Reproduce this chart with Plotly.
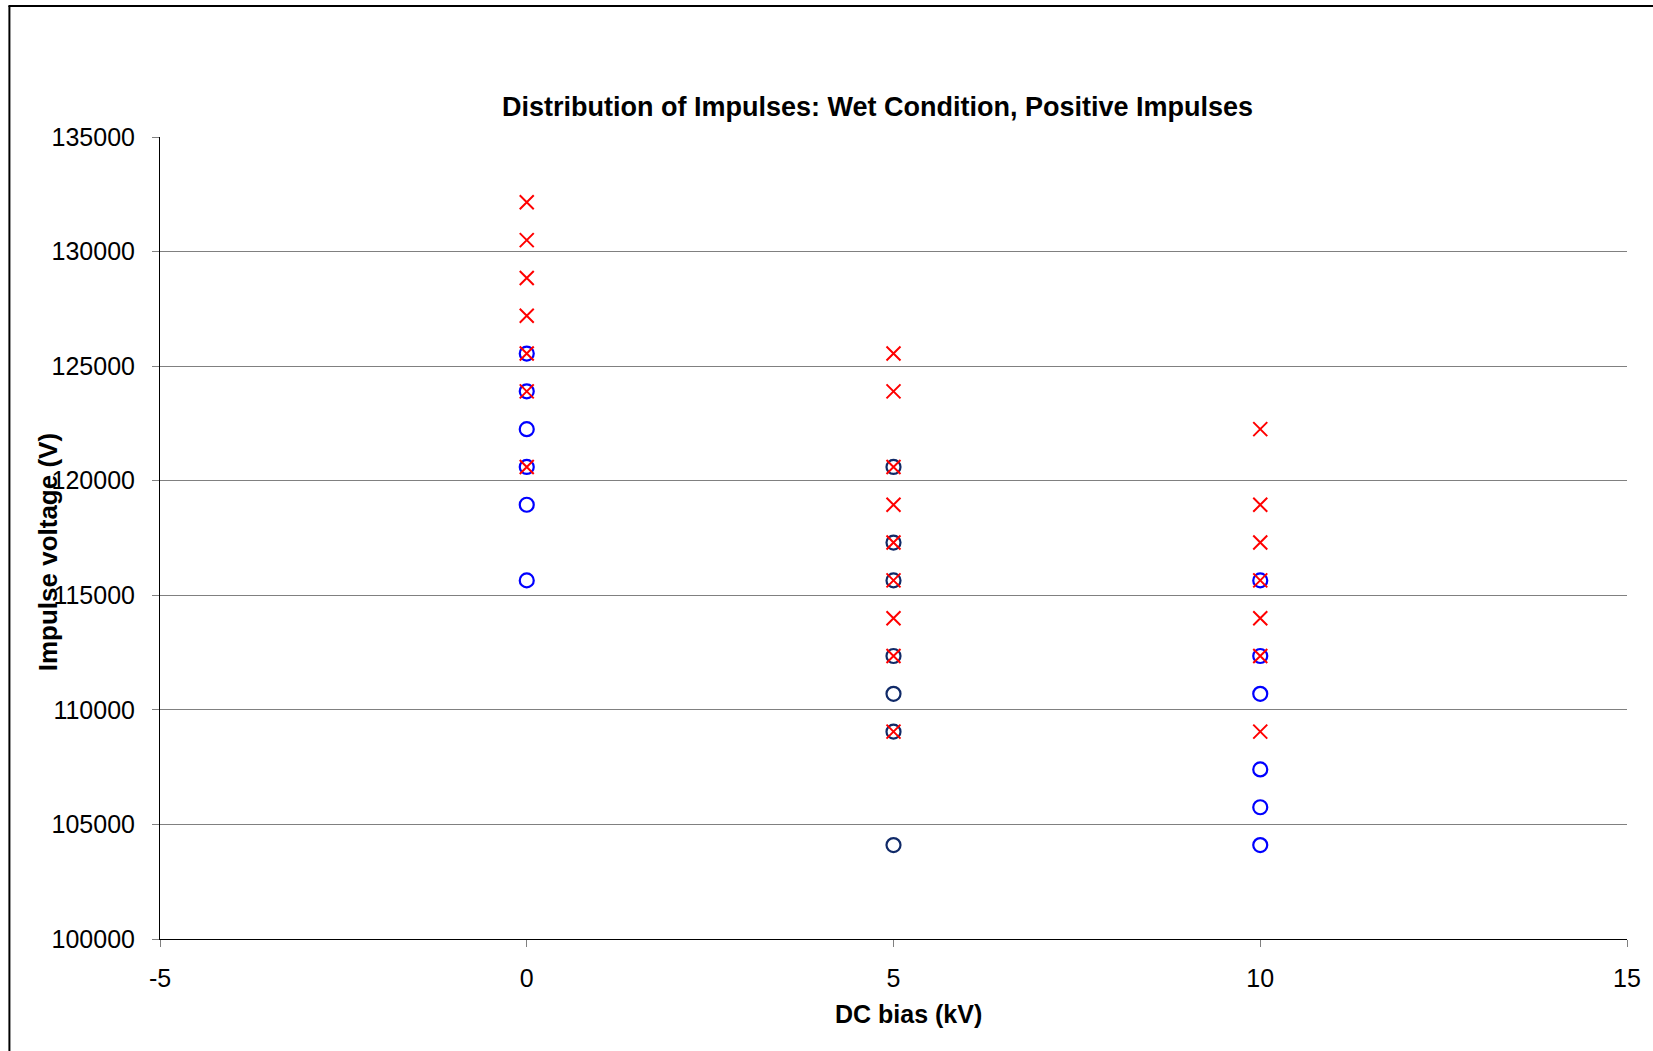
import plotly.graph_objects as go

# Impulse test results: breakdowns (x) and withstands (o) per DC bias level
bias_0 = 0
bias_5 = 5
bias_10 = 10

breakdown_0 = [132150, 130500, 128850, 127200, 125550, 123900, 120600]
withstand_0 = [125550, 123900, 122250, 120600, 118950, 115650]

breakdown_5 = [125550, 123900, 120600, 118950, 117300, 115650, 114000, 112350, 109050]
withstand_5 = [120600, 117300, 115650, 112350, 110700, 109050, 104100]

breakdown_10 = [122250, 118950, 117300, 115650, 114000, 112350, 109050]
withstand_10 = [115650, 112350, 110700, 107400, 105750, 104100]

x_ticks = [-5, 0, 5, 10, 15]
x_tick_labels = ["-5", "0", "5", "10", "15"]

title_text = "Distribution of Impulses: Wet Condition, Positive Impulses"
x_title = "DC bias (kV)"
y_title = "Impulse voltage (V)"

W, H = 1653, 1051
L, R, T, B = 160, 1631, 137, 939
FONT = "Liberation Sans, Arial, sans-serif"


def px_x(px):
    return (px - L) / (R - L)


def px_y(py):
    return (B - py) / (B - T)


fig = go.Figure()

circle_style = dict(symbol="circle-open", size=14)
cross_style = dict(symbol="x-thin", size=14, color="#FF0000", line=dict(color="#FF0000", width=2))

fig.add_trace(go.Scatter(x=[bias_0] * len(withstand_0), y=withstand_0, mode="markers",
                         marker=dict(**circle_style, color="#0000FF",
                                     line=dict(color="#0000FF", width=2.2))))
fig.add_trace(go.Scatter(x=[bias_5] * len(withstand_5), y=withstand_5, mode="markers",
                         marker=dict(**circle_style, color="#102A68",
                                     line=dict(color="#102A68", width=2.2))))
fig.add_trace(go.Scatter(x=[bias_10] * len(withstand_10), y=withstand_10, mode="markers",
                         marker=dict(**circle_style, color="#0000FF",
                                     line=dict(color="#0000FF", width=2.2))))

for xv, ys in ((bias_0, breakdown_0), (bias_5, breakdown_5), (bias_10, breakdown_10)):
    fig.add_trace(go.Scatter(x=[xv] * len(ys), y=ys, mode="markers", marker=cross_style))

fig.update_layout(
    width=W, height=H,
    margin=dict(l=L, r=W - R, t=T, b=H - B, pad=0),
    paper_bgcolor="white", plot_bgcolor="white",
    showlegend=False,
    font=dict(family=FONT, size=25, color="black"),
)

fig.update_xaxes(
    range=[-5, 15], tickmode="array", tickvals=x_ticks, ticktext=x_tick_labels,
    showgrid=False, zeroline=False,
    showline=True, linecolor="black", linewidth=1,
    ticks="outside", ticklen=7, tickcolor="#808080", tickwidth=1,
    tickfont=dict(family=FONT, size=25, color="black"),
    ticklabelstandoff=10,
)
fig.update_yaxes(
    range=[100000, 135000], tickmode="linear", tick0=100000, dtick=5000,
    tickformat="d",
    showgrid=True, gridcolor="#808080", gridwidth=1,
    zeroline=False,
    showline=True, linecolor="black", linewidth=1,
    ticks="outside", ticklen=7, tickcolor="#808080", tickwidth=1,
    tickfont=dict(family=FONT, size=25, color="black"),
    ticklabelstandoff=12,
)

annotations = [
    dict(text=f"<b>{title_text}</b>", x=px_x(879), y=px_y(107), xref="paper", yref="paper",
         xanchor="center", yanchor="middle", showarrow=False,
         font=dict(family=FONT, size=27, color="black")),
    dict(text=f"<b>{x_title}</b>", x=px_x(911), y=px_y(1014), xref="paper", yref="paper",
         xanchor="center", yanchor="middle", showarrow=False,
         font=dict(family=FONT, size=25, color="black")),
    dict(text=f"<b>{y_title}</b>", x=px_x(48), y=px_y(552), xref="paper", yref="paper",
         xanchor="center", yanchor="middle", showarrow=False, textangle=-90,
         font=dict(family=FONT, size=26, color="black")),
]
fig.update_layout(annotations=annotations)

# Outer chart frame (left and top edges)
fig.add_shape(type="line", xref="paper", yref="paper",
              x0=px_x(9), x1=px_x(9), y0=px_y(6), y1=px_y(H + 5),
              line=dict(color="black", width=2))
fig.add_shape(type="line", xref="paper", yref="paper",
              x0=px_x(8), x1=px_x(W + 5), y0=px_y(6), y1=px_y(6),
              line=dict(color="black", width=2))

fig.write_html("out.html")
